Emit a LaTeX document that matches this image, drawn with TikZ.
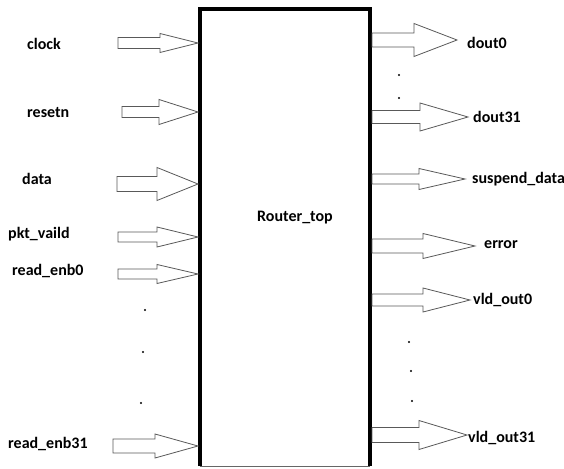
\documentclass[tikz,border=0pt]{standalone}
\usepackage{fontspec}
\setmainfont{Carlito}
\usepackage{tikz}

% block arrow: start x, shoulder x, tip x, centre y, half shaft, half head
\newcommand{\sigarrow}[6]{%
  \draw[sigline] (#1,#4-#5) -- (#2,#4-#5) -- (#2,#4-#6) -- (#3,#4)
    -- (#2,#4+#6) -- (#2,#4+#5) -- (#1,#4+#5) -- cycle;}

\begin{document}
\begin{tikzpicture}[x=1pt,y=-1pt,
    sigline/.style={draw=black!65,line width=0.8pt,fill=white},
    siglabel/.style={anchor=west,inner sep=0pt,font=\fontsize{16}{19}\selectfont\bfseries},
    dotmark/.style={fill=black,circle,inner sep=0pt,minimum size=2.4pt}]
  \useasboundingbox (0,0) rectangle (564,468);

  % router block
  \draw[line width=4pt] (199.5,466) -- (199.5,9.5) -- (369.5,9.5) -- (369.5,466);
  \draw[black!60,line width=1pt] (199.5,466) -- (369.5,466);
  \node[siglabel,anchor=center] (top) at (295,218) {Router\_top};

  % inputs
  \sigarrow{118}{160}{198}{43}{5.5}{9.5}
  \sigarrow{122}{159}{198}{112}{5.5}{12.5}
  \sigarrow{117}{157}{198}{184}{7.5}{16.5}
  \sigarrow{118}{157}{198}{237}{5}{10}
  \sigarrow{118}{157}{198}{274}{5}{9.5}
  \sigarrow{113}{155}{198}{446}{7}{12}

  \node[siglabel] (clock) at (27,44) {clock};
  \node[siglabel] (resetn) at (27,113) {resetn};
  \node[siglabel] (data) at (22,179) {data};
  \node[siglabel] (pktvld) at (8,234) {pkt\_vaild};
  \node[siglabel] (renb0) at (12,271) {read\_enb0};
  \node[siglabel] (renb31) at (8,444) {read\_enb31};

  \node[dotmark] (ld1) at (145,310) {};
  \node[dotmark] (ld2) at (143,352) {};
  \node[dotmark] (ld3) at (141,403) {};

  % outputs
  \sigarrow{372}{414}{457}{40}{7}{16.5}
  \sigarrow{372}{420}{468}{117}{6.5}{14}
  \sigarrow{372}{419}{465}{179}{5}{10.5}
  \sigarrow{372}{423}{475}{246}{7}{12.5}
  \sigarrow{372}{423}{470}{300}{6}{12}
  \sigarrow{372}{419}{467}{435}{7.5}{14.5}

  \node[siglabel] (dout0) at (467,43) {dout0};
  \node[siglabel] (dout31) at (473,117) {dout31};
  \node[siglabel] (susp) at (472,179) {suspend\_data};
  \node[siglabel] (err) at (484,245) {error};
  \node[siglabel] (vld0) at (473,300) {vld\_out0};
  \node[siglabel] (vld31) at (468,438) {vld\_out31};

  \node[dotmark] (rd1) at (399,75) {};
  \node[dotmark] (rd2) at (399,98) {};
  \node[dotmark] (rd3) at (409,342) {};
  \node[dotmark] (rd4) at (411,371) {};
  \node[dotmark] (rd5) at (412,401) {};
\end{tikzpicture}
\end{document}
